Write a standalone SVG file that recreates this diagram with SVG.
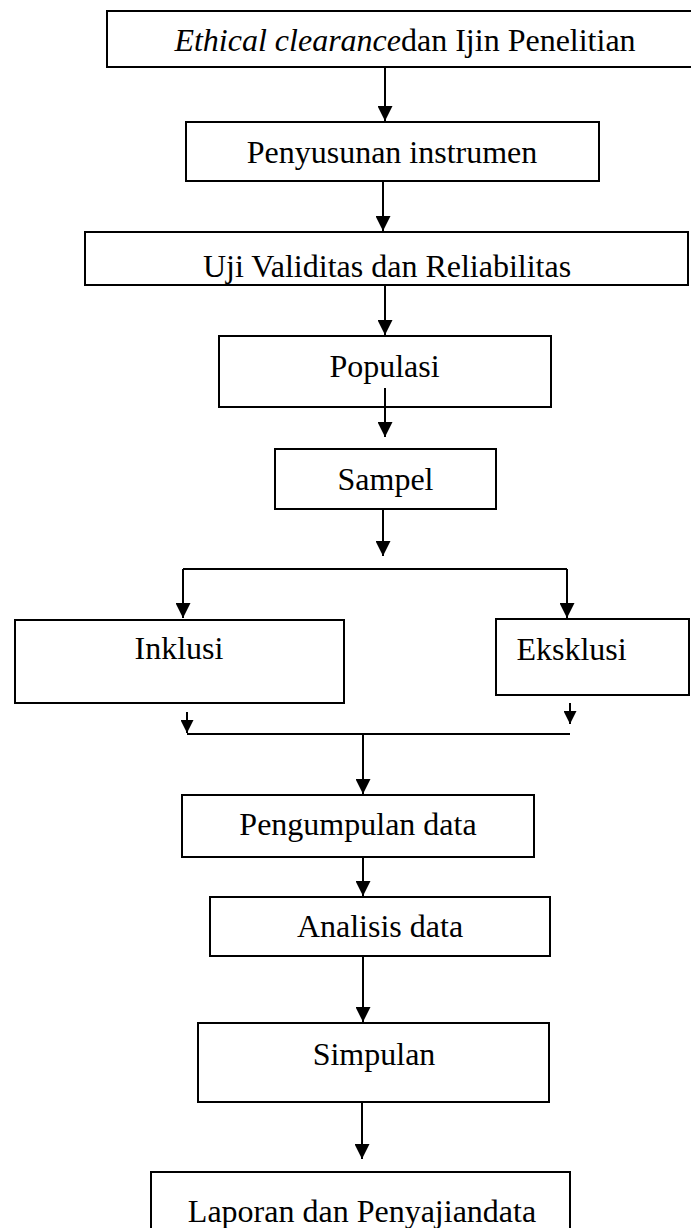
<svg xmlns="http://www.w3.org/2000/svg" width="691" height="1228" viewBox="0 0 691 1228">
<style>
.box{fill:#fff;stroke:#000;stroke-width:2}
.lbl{font-family:"Liberation Serif","Times New Roman",serif;font-size:32px;fill:#000;text-anchor:middle}
.con{fill:none;stroke:#000;stroke-width:2}
.arr{marker-end:url(#ah)}
.sarr{marker-end:url(#sah)}
</style>
<defs>
<marker id="ah" markerUnits="userSpaceOnUse" markerWidth="15" markerHeight="15" viewBox="0 0 15 15" refX="15" refY="7.5" orient="auto">
<path d="M0,0 L15,7.5 L0,15 z" fill="#000"/>
</marker>
<marker id="sah" markerUnits="userSpaceOnUse" markerWidth="13" markerHeight="13" viewBox="0 0 13 13" refX="13" refY="6.5" orient="auto">
<path d="M0,0 L13,6.5 L0,13 z" fill="#000"/>
</marker>
</defs>
<rect width="691" height="1228" fill="#fff"/>
<g id="n1"><rect class="box" x="107" y="11" width="586" height="56"/><text class="lbl" x="405" y="51"><tspan font-style="italic">Ethical clearance</tspan>dan Ijin Penelitian</text></g>
<g id="n2"><rect class="box" x="186" y="122" width="413" height="59"/><text class="lbl" x="392" y="163">Penyusunan instrumen</text></g>
<g id="n3"><rect class="box" x="85" y="232" width="603" height="53"/><text class="lbl" x="387" y="277">Uji Validitas dan Reliabilitas</text></g>
<g id="n4"><rect class="box" x="219" y="336" width="332" height="71"/><text class="lbl" x="384.5" y="377">Populasi</text></g>
<g id="n5"><rect class="box" x="275" y="449" width="221" height="60"/><text class="lbl" x="385.5" y="490">Sampel</text></g>
<g id="n6"><rect class="box" x="15" y="620" width="329" height="83"/><text class="lbl" x="179" y="659">Inklusi</text></g>
<g id="n7"><rect class="box" x="496" y="619" width="193" height="76"/><text class="lbl" x="571.5" y="660">Eksklusi</text></g>
<g id="n8"><rect class="box" x="182" y="795" width="352" height="62"/><text class="lbl" x="358" y="835">Pengumpulan data</text></g>
<g id="n9"><rect class="box" x="210" y="897" width="340" height="59"/><text class="lbl" x="380" y="937">Analisis data</text></g>
<g id="n10"><rect class="box" x="198" y="1023" width="351" height="79"/><text class="lbl" x="374" y="1065">Simpulan</text></g>
<g id="n11"><rect class="box" x="151" y="1172" width="419" height="62"/><text class="lbl" x="362" y="1222">Laporan dan Penyajiandata</text></g>
<g id="connectors">
<line class="con arr" x1="385" y1="67" x2="385" y2="121"/>
<line class="con arr" x1="383" y1="181" x2="383" y2="231"/>
<line class="con arr" x1="385" y1="285" x2="385" y2="335"/>
<line class="con arr" x1="385" y1="388" x2="385" y2="437"/>
<line class="con arr" x1="383" y1="509" x2="383" y2="556"/>
<path class="con" d="M183,569 H567"/>
<line class="con arr" x1="183" y1="569" x2="183" y2="618"/>
<line class="con arr" x1="567" y1="569" x2="567" y2="618"/>
<line class="con sarr" x1="187" y1="712" x2="187" y2="733"/>
<line class="con sarr" x1="570" y1="703" x2="570" y2="724"/>
<path class="con" d="M187,734 H570"/>
<line class="con arr" x1="363" y1="734" x2="363" y2="794"/>
<line class="con arr" x1="363" y1="857" x2="363" y2="896"/>
<line class="con arr" x1="363" y1="956" x2="363" y2="1022"/>
<line class="con arr" x1="362" y1="1102" x2="362" y2="1159"/>
</g>
</svg>
